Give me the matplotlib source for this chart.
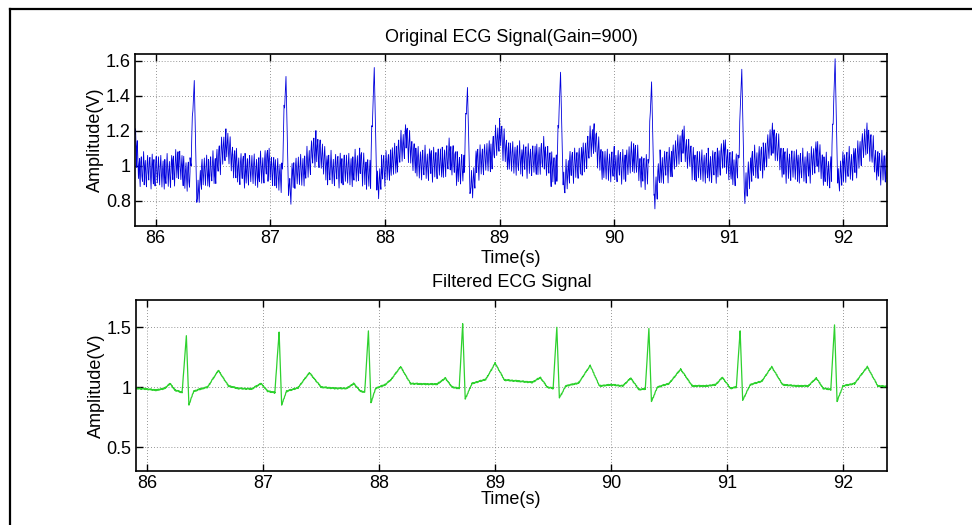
import numpy as np
import matplotlib
matplotlib.use("Agg")
import matplotlib.pyplot as plt
from matplotlib.lines import Line2D

plt.rcParams['font.family'] = ['Liberation Sans', 'DejaVu Sans']

# ---------------- data ----------------
# R-peak times (s)
r_times = [86.337, 87.137, 87.907, 88.720, 89.532, 90.326, 91.113, 91.927]
# filtered trace: R peak and S dip amplitudes (V)
r_filt = [1.43, 1.46, 1.47, 1.53, 1.50, 1.49, 1.47, 1.52]
s_filt = [0.85, 0.85, 0.87, 0.90, 0.91, 0.88, 0.89, 0.88]
# original trace: R peak and S dip amplitudes (V)
r_orig = [1.486, 1.509, 1.560, 1.446, 1.533, 1.478, 1.550, 1.610]
s_orig = [0.79, 0.83, 0.86, 0.84, 0.89, 0.83, 0.85, 0.90]

# remaining waveform vertices (P waves, baseline, ST segments, T waves)
wave_t = [85.90, 85.98, 86.08, 86.15, 86.196, 86.24, 86.30,
          86.40, 86.46, 86.52, 86.613, 86.70, 86.78, 86.90, 86.98, 87.04, 87.10,
          87.20, 87.30, 87.398, 87.50, 87.62, 87.72, 87.78, 87.84, 87.875,
          87.97, 88.05, 88.10, 88.185, 88.27, 88.40, 88.50, 88.57, 88.63, 88.69,
          88.80, 88.92, 89.00, 89.08, 89.20, 89.32, 89.39, 89.45, 89.50,
          89.61, 89.72, 89.82, 89.90, 90.00, 90.10, 90.17, 90.24, 90.295,
          90.40, 90.50, 90.60, 90.70, 90.82, 90.90, 90.96, 91.03, 91.08,
          91.20, 91.30, 91.385, 91.48, 91.60, 91.70, 91.77, 91.83, 91.895,
          92.00, 92.10, 92.21, 92.30, 92.38]
wave_v = [0.99, 0.985, 0.975, 0.99, 1.03, 0.975, 0.955,
          0.965, 0.985, 1.00, 1.14, 1.01, 0.99, 0.985, 1.03, 0.965, 0.955,
          0.965, 0.995, 1.12, 1.00, 0.99, 0.99, 1.03, 0.965, 0.96,
          0.99, 1.02, 1.06, 1.17, 1.03, 1.025, 1.025, 1.075, 1.00, 0.99,
          1.03, 1.065, 1.20, 1.06, 1.05, 1.04, 1.08, 1.00, 0.99,
          1.01, 1.035, 1.18, 1.01, 1.02, 1.01, 1.075, 0.98, 0.985,
          1.00, 1.03, 1.15, 1.01, 1.01, 1.02, 1.08, 0.99, 1.00,
          1.02, 1.05, 1.17, 1.02, 1.01, 1.01, 1.075, 0.99, 0.98,
          1.01, 1.03, 1.17, 1.01, 1.005]

# start of the original record (transient at left edge)
orig_start_t = [85.82, 85.835, 85.86]
orig_start_v = [1.17, 1.08, 0.99]

# residual mains interference of the original record (V), one sample per 5 ms
hum = [0.01, 0.07, -0.03, -0.09, 0.02, 0.08, -0.02, -0.10, 0.00, 0.05, -0.04,
       -0.11, 0.03, 0.06, -0.05, -0.08, 0.01, 0.09, -0.01, -0.10, -0.01, 0.04,
       -0.06, -0.11, 0.02, 0.07, -0.03, -0.07, 0.04, 0.06, -0.04, -0.12, 0.00,
       0.08, 0.00, -0.09, 0.01, 0.05, -0.05, -0.10, 0.03, 0.07, -0.02, -0.08]
# small residual fuzz on the filtered trace (V)
fuzz = [0.005, -0.003, 0.006, -0.005, 0.002, -0.004, 0.004, -0.002, 0.005,
        -0.006, 0.002, -0.004, 0.003]

x_ticks = [86, 87, 88, 89, 90, 91, 92]
y_ticks_top = [0.8, 1.0, 1.2, 1.4, 1.6]
y_ticks_bot = [0.5, 1.0, 1.5]
y_ticklabels_top = ['0.8', '1', '1.2', '1.4', '1.6']
y_ticklabels_bot = ['0.5', '1', '1.5']


def build(r_amp, s_amp, extra_t, extra_v):
    t = list(extra_t) + list(wave_t)
    v = list(extra_v) + list(wave_v)
    for tr, ra, sa in zip(r_times, r_amp, s_amp):
        t += [tr, tr + 0.022]
        v += [ra, sa]
    order = np.argsort(t)
    return np.asarray(t)[order], np.asarray(v)[order]


def qrs_mask(t):
    m = np.zeros(t.size, dtype=bool)
    for tr in r_times:
        m |= (t > tr - 0.014) & (t < tr + 0.026)
    return m


ft, fv = build(r_filt, s_filt, [], [])
ot, ov = build(r_orig, s_orig, orig_start_t, orig_start_v)

# sample on 5 ms grid (keeping all vertices)
t_f = np.union1d(np.arange(85.90, 92.38, 0.005), ft)
y_f = np.interp(t_f, ft, fv)
fz = np.resize(np.array(fuzz), t_f.size)
fz[qrs_mask(t_f)] = 0
y_f = y_f + fz

t_o = np.union1d(np.arange(85.82, 92.38, 0.005), ot)
y_o = np.interp(t_o, ot, ov)
hz = np.resize(np.array(hum), t_o.size)
hz[qrs_mask(t_o)] = 0
y_o = y_o + hz

# ---------------- figure ----------------
fig = plt.figure(figsize=(9.72, 5.25), dpi=100)
fig.patch.set_facecolor('white')

ax1 = fig.add_axes([0.1389, 0.5695, 0.7737, 0.3276])
ax2 = fig.add_axes([0.1396, 0.1029, 0.7730, 0.3257])

ax1.plot(t_o, y_o, color='#0000dd', lw=0.6)
ax2.plot(t_f, y_f, color='#2ed12e', lw=0.9)

FS = 13
for ax, yt, ytl, yl, title, xpad in [
        (ax1, y_ticks_top, y_ticklabels_top, (0.655, 1.637), 'Original ECG Signal(Gain=900)', 2),
        (ax2, y_ticks_bot, y_ticklabels_bot, (0.30, 1.728), 'Filtered ECG Signal', -1)]:
    ax.set_xticks(x_ticks)
    ax.set_xticklabels([str(x) for x in x_ticks])
    ax.set_yticks(yt)
    ax.set_yticklabels(ytl)
    ax.set_ylim(*yl)
    ax.grid(True, color='0.45', linestyle=(0, (1, 2.5)), linewidth=0.6)
    ax.tick_params(direction='in', length=5, width=1.0, top=True, right=True,
                   labelsize=FS, pad=3, colors='black')
    for sp in ax.spines.values():
        sp.set_linewidth(1.2)
        sp.set_color('black')
    ax.set_xlabel('Time(s)', fontsize=FS, labelpad=xpad)
    ax.set_ylabel('Amplitude(V)', fontsize=FS, labelpad=1)
    ax.set_title(title, fontsize=FS, pad=9)

ax1.set_xlim(85.82, 92.38)
ax2.set_xlim(85.90, 92.38)

# outer frame (top and left edges)
fig.add_artist(Line2D([9.5 / 972, 1.0], [1 - 9 / 525, 1 - 9 / 525],
                      transform=fig.transFigure, color='black', lw=1.6))
fig.add_artist(Line2D([10 / 972, 10 / 972], [0.0, 1 - 9 / 525],
                      transform=fig.transFigure, color='black', lw=1.6))

fig.savefig('out.png', dpi=100, facecolor='white')
